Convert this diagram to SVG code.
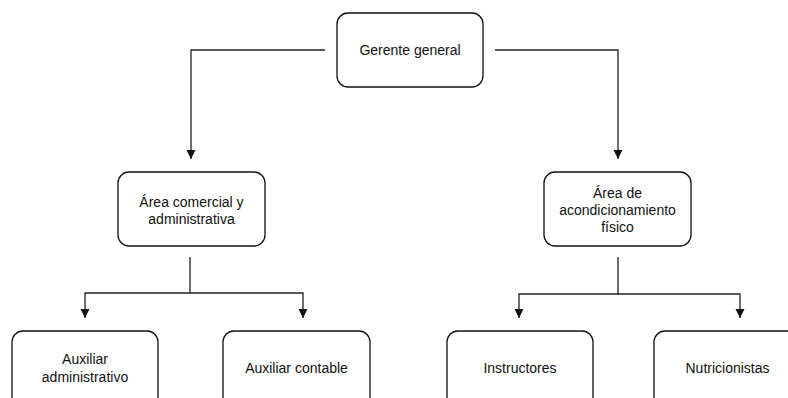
<svg xmlns="http://www.w3.org/2000/svg" width="788" height="398" viewBox="0 0 788 398">
<style>
.box{fill:#fff;stroke:#111;stroke-width:1.3}
.t{font-family:"Liberation Sans",Arial,sans-serif;font-size:14px;fill:#111;text-anchor:middle}
.c{fill:none;stroke:#222;stroke-width:1.3}
</style>
<defs>
<marker id="a" markerWidth="10" markerHeight="10" refX="9" refY="4.5" orient="auto" markerUnits="userSpaceOnUse" viewBox="0 0 10 10">
<path d="M0,0 L9,4.5 L0,9 Z" fill="#111"/>
</marker>
</defs>
<rect width="788" height="398" fill="#fff"/>
<g id="connectors">
<path class="c" d="M325,50 H191 V159" marker-end="url(#a)"/>
<path class="c" d="M495,50 H618 V159" marker-end="url(#a)"/>
<path class="c" d="M190,257 V293 H85 V318" marker-end="url(#a)"/>
<path class="c" d="M190,293 H303 V318" marker-end="url(#a)"/>
<path class="c" d="M618,257 V294 H519 V318" marker-end="url(#a)"/>
<path class="c" d="M618,294 H740 V318" marker-end="url(#a)"/>
</g>
<g id="gerente">
<rect class="box" x="337" y="13" width="146" height="74" rx="11"/>
<text class="t" x="410" y="55">Gerente general</text>
</g>
<g id="comercial">
<rect class="box" x="118" y="172" width="147" height="74" rx="11"/>
<text class="t" x="191.5" y="207">Área comercial y</text>
<text class="t" x="191.5" y="224">administrativa</text>
</g>
<g id="acond">
<rect class="box" x="544" y="172" width="147" height="74" rx="11"/>
<text class="t" x="617.5" y="198">Área de</text>
<text class="t" x="617.5" y="215">acondicionamiento</text>
<text class="t" x="617.5" y="232">físico</text>
</g>
<g id="auxadm">
<rect class="box" x="12" y="331" width="146" height="80" rx="11"/>
<text class="t" x="85" y="364">Auxiliar</text>
<text class="t" x="85" y="382">administrativo</text>
</g>
<g id="auxcont">
<rect class="box" x="223" y="331" width="147" height="80" rx="11"/>
<text class="t" x="296.5" y="373">Auxiliar contable</text>
</g>
<g id="instr">
<rect class="box" x="447" y="331" width="146" height="80" rx="11"/>
<text class="t" x="520" y="373">Instructores</text>
</g>
<g id="nutri">
<rect class="box" x="654" y="331" width="147" height="80" rx="11"/>
<text class="t" x="727.5" y="373">Nutricionistas</text>
</g>
</svg>
